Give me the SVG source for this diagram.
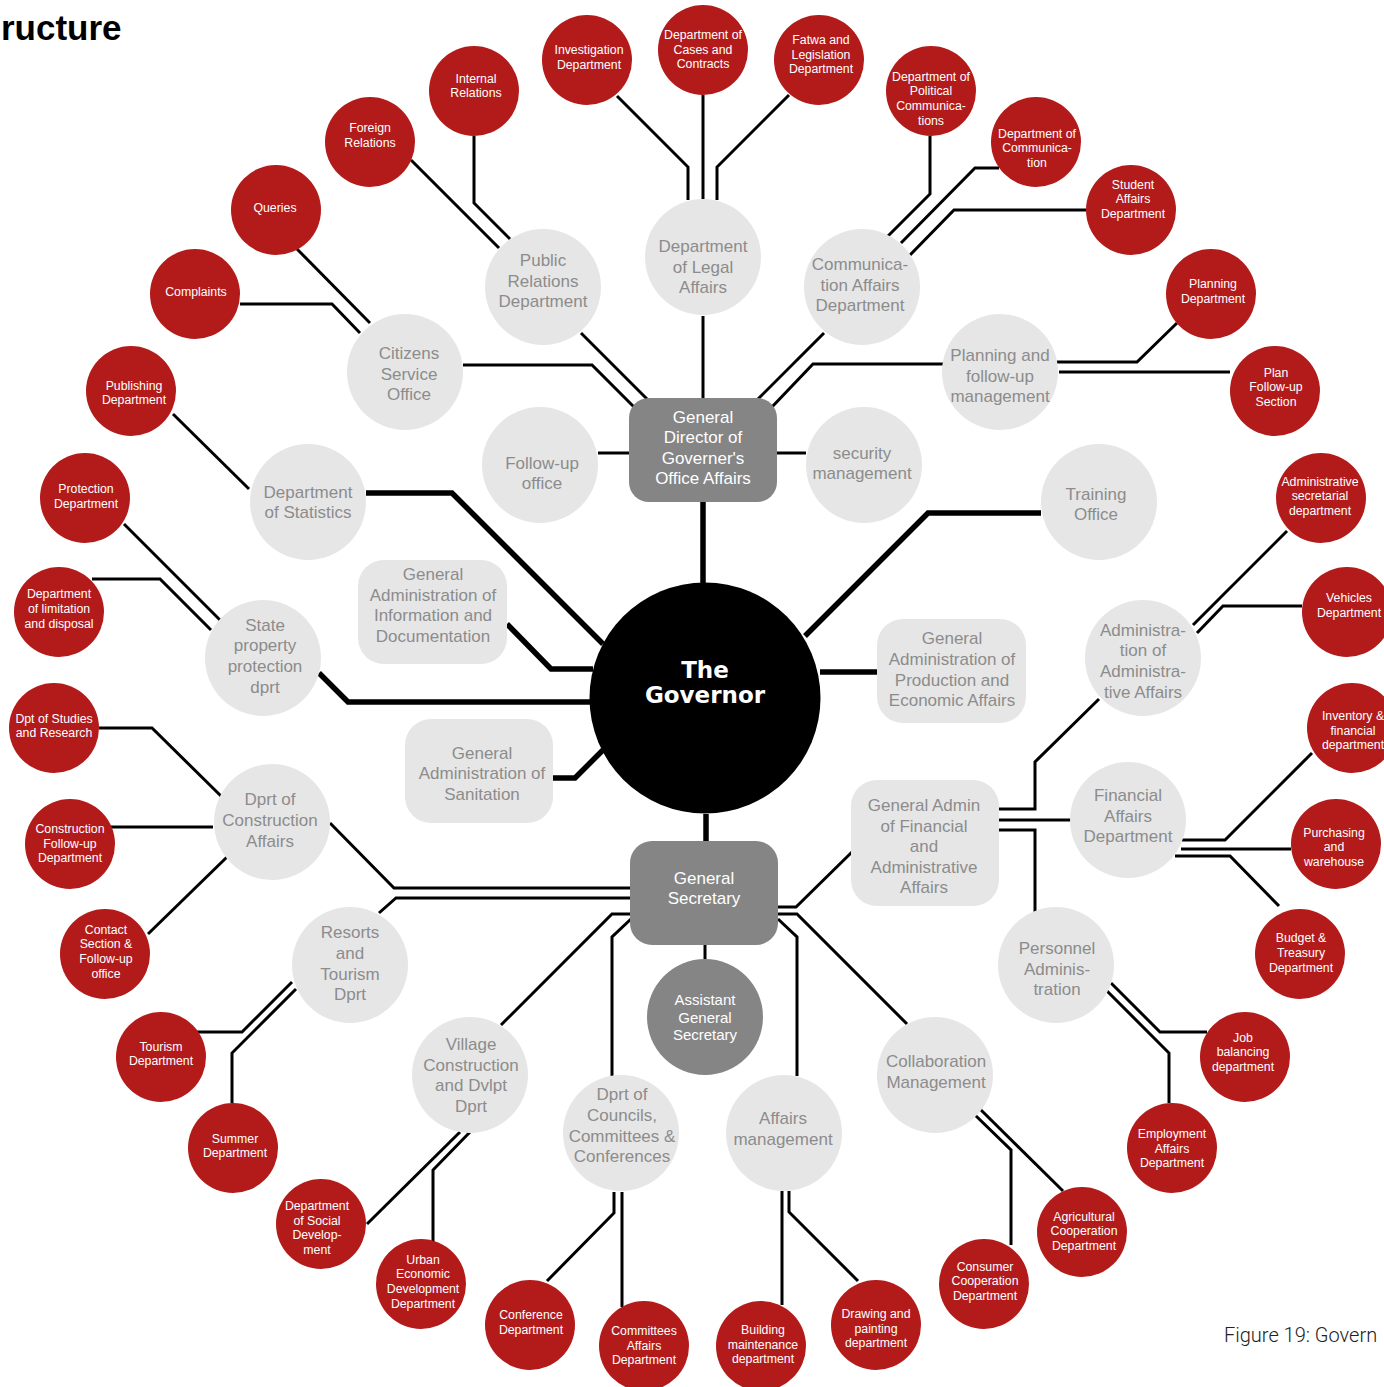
<svg xmlns="http://www.w3.org/2000/svg" width="1384" height="1387" viewBox="0 0 1384 1387">
<style>
.red{fill:#B31B1B}
.lt{fill:#E6E6E6}
.dk{fill:#858585}
.rt{font-family:"Liberation Sans",Arial,sans-serif;font-size:12.3px;fill:#fff;text-anchor:middle}
.gt{font-family:"Liberation Sans",Arial,sans-serif;font-size:17px;fill:#8C8C8C;text-anchor:middle}
.wt{font-family:"Liberation Sans",Arial,sans-serif;font-size:17px;fill:#fff;text-anchor:middle}
.c{fill:none;stroke:#000;stroke-width:3}
.t{fill:none;stroke:#000;stroke-width:5.5}
</style>
<rect width="1384" height="1387" fill="#fff"/>
<text x="1" y="40" font-family="'Liberation Sans',Arial,sans-serif" font-weight="bold" font-size="35" fill="#000">ructure</text>
<text x="1224" y="1342" font-family="Roboto,'Liberation Sans',sans-serif" font-weight="300" font-size="20" fill="#222">Figure 19: Govern</text>
<g id="connectors">
<path class="t" d="M703,502V583"/>
<path class="t" d="M706,814V841"/>
<path class="t" d="M366,493H452L603,644"/>
<path class="t" d="M507,624L551,669H593"/>
<path class="t" d="M319,673L348,702H591"/>
<path class="t" d="M553,778H575L603,750"/>
<path class="t" d="M805,636L928,513H1041"/>
<path class="t" d="M820,672H877"/>
<path class="c" d="M703,316V398"/>
<path class="c" d="M581,333L647,399"/>
<path class="c" d="M463,365H592L635,408"/>
<path class="c" d="M824,333L758,399"/>
<path class="c" d="M943,364H813L771,408"/>
<path class="c" d="M598,453H629"/>
<path class="c" d="M777,453H806"/>
<path class="c" d="M617,96L688,167V200"/>
<path class="c" d="M703,95V199"/>
<path class="c" d="M789,95L717,167V200"/>
<path class="c" d="M474,136V203L510,239"/>
<path class="c" d="M411,160L499,248"/>
<path class="c" d="M930,136V194L887,237"/>
<path class="c" d="M999,168H975L901,243"/>
<path class="c" d="M1086,210H954L910,255"/>
<path class="c" d="M1177,323L1137,362H1057"/>
<path class="c" d="M1059,372H1230"/>
<path class="c" d="M296,248L370,323"/>
<path class="c" d="M240,304H332L360,333"/>
<path class="c" d="M173,414L249,489"/>
<path class="c" d="M124,524L220,620"/>
<path class="c" d="M92,579H160L211,630"/>
<path class="c" d="M99,728H152L221,796"/>
<path class="c" d="M108,827H213"/>
<path class="c" d="M148,934L227,857"/>
<path class="c" d="M330,823L394,888H631"/>
<path class="c" d="M379,913L396,898H631"/>
<path class="c" d="M501,1025L612,914H631"/>
<path class="c" d="M631,919L612,937V1076"/>
<path class="c" d="M778,919L797,937V1076"/>
<path class="c" d="M778,914H797L907,1024"/>
<path class="c" d="M778,907H796L852,852"/>
<path class="c" d="M705,945V959"/>
<path class="c" d="M999,809H1035V762L1099,699"/>
<path class="c" d="M999,820H1071"/>
<path class="c" d="M999,830H1035V912"/>
<path class="c" d="M1287,531L1193,625"/>
<path class="c" d="M1302,606H1223L1197,633"/>
<path class="c" d="M1312,753L1225,840H1182"/>
<path class="c" d="M1291,849H1181"/>
<path class="c" d="M1175,856H1230L1279,906"/>
<path class="c" d="M1207,1032H1160L1111,983"/>
<path class="c" d="M1169,1103V1053L1106,990"/>
<path class="c" d="M1063,1191L980,1109"/>
<path class="c" d="M1011,1245V1150L975,1115"/>
<path class="c" d="M367,1224L460,1132"/>
<path class="c" d="M433,1242V1170L470,1132"/>
<path class="c" d="M547,1281L614,1213V1192"/>
<path class="c" d="M622,1192V1307"/>
<path class="c" d="M782,1191V1305"/>
<path class="c" d="M789,1191V1212L858,1281"/>
<path class="c" d="M196,1032H242L292,982"/>
<path class="c" d="M232,1103V1053L296,989"/>
</g>
<g id="governor"><circle cx="705" cy="698" r="115.5" fill="#000"/><text font-family="'DejaVu Sans',Verdana,sans-serif" font-weight="bold" font-size="23" fill="#fff" text-anchor="middle"><tspan x="705" y="678">The</tspan><tspan x="705" y="703">Governor</tspan></text></g>
<g id="general-director"><rect class="dk" x="629" y="398" width="148" height="104" rx="20"/><text class="wt"><tspan x="703" y="423">General</tspan><tspan x="703" y="443">Director of</tspan><tspan x="703" y="464">Governer's</tspan><tspan x="703" y="484">Office Affairs</tspan></text></g>
<g id="general-secretary"><rect class="dk" x="630" y="841" width="148" height="104" rx="22"/><text class="wt"><tspan x="704" y="884">General</tspan><tspan x="704" y="904">Secretary</tspan></text></g>
<g id="assistant-gs"><circle class="dk" cx="705" cy="1017" r="58"/><text class="wt" style="font-size:15px"><tspan x="705" y="1005">Assistant</tspan><tspan x="705" y="1023">General</tspan><tspan x="705" y="1040">Secretary</tspan></text></g>
<g id="public-relations"><circle class="lt" cx="543" cy="287" r="58"/><text class="gt"><tspan x="543" y="266">Public</tspan><tspan x="543" y="287">Relations</tspan><tspan x="543" y="307">Department</tspan></text></g>
<g id="legal-affairs"><circle class="lt" cx="703" cy="257" r="58"/><text class="gt"><tspan x="703" y="252">Department</tspan><tspan x="703" y="273">of Legal</tspan><tspan x="703" y="293">Affairs</tspan></text></g>
<g id="communication-affairs"><circle class="lt" cx="862" cy="287" r="58"/><text class="gt"><tspan x="860" y="270">Communica-</tspan><tspan x="860" y="291">tion Affairs</tspan><tspan x="860" y="311">Department</tspan></text></g>
<g id="citizens"><circle class="lt" cx="405" cy="372" r="58"/><text class="gt"><tspan x="409" y="359">Citizens</tspan><tspan x="409" y="380">Service</tspan><tspan x="409" y="400">Office</tspan></text></g>
<g id="follow-up-office"><circle class="lt" cx="540" cy="465" r="58"/><text class="gt"><tspan x="542" y="469">Follow-up</tspan><tspan x="542" y="489">office</tspan></text></g>
<g id="security"><circle class="lt" cx="864" cy="465" r="58"/><text class="gt"><tspan x="862" y="459">security</tspan><tspan x="862" y="479">management</tspan></text></g>
<g id="planning-followup"><circle class="lt" cx="1000" cy="372" r="58"/><text class="gt"><tspan x="1000" y="361">Planning and</tspan><tspan x="1000" y="382">follow-up</tspan><tspan x="1000" y="402">management</tspan></text></g>
<g id="training"><circle class="lt" cx="1099" cy="502" r="58"/><text class="gt"><tspan x="1096" y="500">Training</tspan><tspan x="1096" y="520">Office</tspan></text></g>
<g id="statistics"><circle class="lt" cx="308" cy="502" r="58"/><text class="gt"><tspan x="308" y="498">Department</tspan><tspan x="308" y="518">of Statistics</tspan></text></g>
<g id="state-property"><circle class="lt" cx="263" cy="658" r="58"/><text class="gt"><tspan x="265" y="631">State</tspan><tspan x="265" y="651">property</tspan><tspan x="265" y="672">protection</tspan><tspan x="265" y="693">dprt</tspan></text></g>
<g id="construction-affairs"><circle class="lt" cx="272" cy="822" r="58"/><text class="gt"><tspan x="270" y="805">Dprt of</tspan><tspan x="270" y="826">Construction</tspan><tspan x="270" y="847">Affairs</tspan></text></g>
<g id="admin-affairs"><circle class="lt" cx="1143" cy="658" r="58"/><text class="gt"><tspan x="1143" y="636">Administra-</tspan><tspan x="1143" y="656">tion of</tspan><tspan x="1143" y="677">Administra-</tspan><tspan x="1143" y="698">tive Affairs</tspan></text></g>
<g id="financial-affairs"><circle class="lt" cx="1128" cy="820" r="58"/><text class="gt"><tspan x="1128" y="801">Financial</tspan><tspan x="1128" y="822">Affairs</tspan><tspan x="1128" y="842">Department</tspan></text></g>
<g id="personnel"><circle class="lt" cx="1056" cy="965" r="58"/><text class="gt"><tspan x="1057" y="954">Personnel</tspan><tspan x="1057" y="975">Adminis-</tspan><tspan x="1057" y="995">tration</tspan></text></g>
<g id="collaboration"><circle class="lt" cx="935" cy="1075" r="58"/><text class="gt"><tspan x="936" y="1067">Collaboration</tspan><tspan x="936" y="1088">Management</tspan></text></g>
<g id="affairs-management"><circle class="lt" cx="784" cy="1133" r="58"/><text class="gt"><tspan x="783" y="1124">Affairs</tspan><tspan x="783" y="1145">management</tspan></text></g>
<g id="councils"><circle class="lt" cx="621" cy="1133" r="58"/><text class="gt"><tspan x="622" y="1100">Dprt of</tspan><tspan x="622" y="1121">Councils,</tspan><tspan x="622" y="1142">Committees &amp;</tspan><tspan x="622" y="1162">Conferences</tspan></text></g>
<g id="village"><circle class="lt" cx="470" cy="1075" r="58"/><text class="gt"><tspan x="471" y="1050">Village</tspan><tspan x="471" y="1071">Construction</tspan><tspan x="471" y="1091">and Dvlpt</tspan><tspan x="471" y="1112">Dprt</tspan></text></g>
<g id="resorts"><circle class="lt" cx="350" cy="965" r="58"/><text class="gt"><tspan x="350" y="938">Resorts</tspan><tspan x="350" y="959">and</tspan><tspan x="350" y="980">Tourism</tspan><tspan x="350" y="1000">Dprt</tspan></text></g>
<g id="info-doc"><rect class="lt" x="358" y="560" width="149" height="104" rx="26"/><text class="gt"><tspan x="433" y="580">General</tspan><tspan x="433" y="601">Administration of</tspan><tspan x="433" y="621">Information and</tspan><tspan x="433" y="642">Documentation</tspan></text></g>
<g id="sanitation"><rect class="lt" x="405" y="719" width="148" height="104" rx="26"/><text class="gt"><tspan x="482" y="759">General</tspan><tspan x="482" y="779">Administration of</tspan><tspan x="482" y="800">Sanitation</tspan></text></g>
<g id="production"><rect class="lt" x="877" y="619" width="149" height="104" rx="26"/><text class="gt"><tspan x="952" y="644">General</tspan><tspan x="952" y="665">Administration of</tspan><tspan x="952" y="686">Production and</tspan><tspan x="952" y="706">Economic Affairs</tspan></text></g>
<g id="fin-admin"><rect class="lt" x="851" y="780" width="148" height="126" rx="26"/><text class="gt"><tspan x="924" y="811">General Admin</tspan><tspan x="924" y="832">of Financial</tspan><tspan x="924" y="852">and</tspan><tspan x="924" y="873">Administrative</tspan><tspan x="924" y="893">Affairs</tspan></text></g>
<g id="internal-relations"><circle class="red" cx="474" cy="91" r="45"/><text class="rt"><tspan x="476" y="83">Internal</tspan><tspan x="476" y="97">Relations</tspan></text></g>
<g id="foreign-relations"><circle class="red" cx="370" cy="142" r="45"/><text class="rt"><tspan x="370" y="132">Foreign</tspan><tspan x="370" y="147">Relations</tspan></text></g>
<g id="queries"><circle class="red" cx="276" cy="210" r="45"/><text class="rt"><tspan x="275" y="212">Queries</tspan></text></g>
<g id="complaints"><circle class="red" cx="195" cy="294" r="45"/><text class="rt"><tspan x="196" y="296">Complaints</tspan></text></g>
<g id="publishing"><circle class="red" cx="131" cy="391" r="45"/><text class="rt"><tspan x="134" y="390">Publishing</tspan><tspan x="134" y="404">Department</tspan></text></g>
<g id="investigation"><circle class="red" cx="587" cy="60" r="45"/><text class="rt"><tspan x="589" y="54">Investigation</tspan><tspan x="589" y="69">Department</tspan></text></g>
<g id="cases"><circle class="red" cx="703" cy="50" r="45"/><text class="rt"><tspan x="703" y="39">Department of</tspan><tspan x="703" y="54">Cases and</tspan><tspan x="703" y="68">Contracts</tspan></text></g>
<g id="fatwa"><circle class="red" cx="819" cy="60" r="45"/><text class="rt"><tspan x="821" y="44">Fatwa and</tspan><tspan x="821" y="59">Legislation</tspan><tspan x="821" y="73">Department</tspan></text></g>
<g id="political"><circle class="red" cx="931" cy="91" r="45"/><text class="rt"><tspan x="931" y="81">Department of</tspan><tspan x="931" y="95">Political</tspan><tspan x="931" y="110">Communica-</tspan><tspan x="931" y="125">tions</tspan></text></g>
<g id="communication"><circle class="red" cx="1036" cy="142" r="45"/><text class="rt"><tspan x="1037" y="138">Department of</tspan><tspan x="1037" y="152">Communica-</tspan><tspan x="1037" y="167">tion</tspan></text></g>
<g id="student"><circle class="red" cx="1131" cy="210" r="45"/><text class="rt"><tspan x="1133" y="189">Student</tspan><tspan x="1133" y="203">Affairs</tspan><tspan x="1133" y="218">Department</tspan></text></g>
<g id="planning-dept"><circle class="red" cx="1211" cy="294" r="45"/><text class="rt"><tspan x="1213" y="288">Planning</tspan><tspan x="1213" y="303">Department</tspan></text></g>
<g id="plan-followup"><circle class="red" cx="1275" cy="391" r="45"/><text class="rt"><tspan x="1276" y="377">Plan</tspan><tspan x="1276" y="391">Follow-up</tspan><tspan x="1276" y="406">Section</tspan></text></g>
<g id="protection"><circle class="red" cx="85" cy="498" r="45"/><text class="rt"><tspan x="86" y="493">Protection</tspan><tspan x="86" y="508">Department</tspan></text></g>
<g id="limitation"><circle class="red" cx="59" cy="612" r="45"/><text class="rt"><tspan x="59" y="598">Department</tspan><tspan x="59" y="613">of limitation</tspan><tspan x="59" y="628">and disposal</tspan></text></g>
<g id="studies"><circle class="red" cx="54" cy="728" r="45"/><text class="rt"><tspan x="54" y="723">Dpt of Studies</tspan><tspan x="54" y="737">and Research</tspan></text></g>
<g id="construction-followup"><circle class="red" cx="70" cy="844" r="45"/><text class="rt"><tspan x="70" y="833">Construction</tspan><tspan x="70" y="848">Follow-up</tspan><tspan x="70" y="862">Department</tspan></text></g>
<g id="contact"><circle class="red" cx="105" cy="954" r="45"/><text class="rt"><tspan x="106" y="934">Contact</tspan><tspan x="106" y="948">Section &amp;</tspan><tspan x="106" y="963">Follow-up</tspan><tspan x="106" y="978">office</tspan></text></g>
<g id="tourism"><circle class="red" cx="161" cy="1057" r="45"/><text class="rt"><tspan x="161" y="1051">Tourism</tspan><tspan x="161" y="1065">Department</tspan></text></g>
<g id="summer"><circle class="red" cx="233" cy="1148" r="45"/><text class="rt"><tspan x="235" y="1143">Summer</tspan><tspan x="235" y="1157">Department</tspan></text></g>
<g id="social-dev"><circle class="red" cx="321" cy="1224" r="45"/><text class="rt"><tspan x="317" y="1210">Department</tspan><tspan x="317" y="1225">of Social</tspan><tspan x="317" y="1239">Develop-</tspan><tspan x="317" y="1254">ment</tspan></text></g>
<g id="urban"><circle class="red" cx="421" cy="1284" r="45"/><text class="rt"><tspan x="423" y="1264">Urban</tspan><tspan x="423" y="1278">Economic</tspan><tspan x="423" y="1293">Development</tspan><tspan x="423" y="1308">Department</tspan></text></g>
<g id="conference"><circle class="red" cx="530" cy="1325" r="45"/><text class="rt"><tspan x="531" y="1319">Conference</tspan><tspan x="531" y="1334">Department</tspan></text></g>
<g id="committees"><circle class="red" cx="644" cy="1346" r="45"/><text class="rt"><tspan x="644" y="1335">Committees</tspan><tspan x="644" y="1350">Affairs</tspan><tspan x="644" y="1364">Department</tspan></text></g>
<g id="building"><circle class="red" cx="761" cy="1346" r="45"/><text class="rt"><tspan x="763" y="1334">Building</tspan><tspan x="763" y="1349">maintenance</tspan><tspan x="763" y="1363">department</tspan></text></g>
<g id="drawing"><circle class="red" cx="876" cy="1325" r="45"/><text class="rt"><tspan x="876" y="1318">Drawing and</tspan><tspan x="876" y="1333">painting</tspan><tspan x="876" y="1347">department</tspan></text></g>
<g id="admin-secretarial"><circle class="red" cx="1321" cy="498" r="45"/><text class="rt"><tspan x="1320" y="486">Administrative</tspan><tspan x="1320" y="500">secretarial</tspan><tspan x="1320" y="515">department</tspan></text></g>
<g id="vehicles"><circle class="red" cx="1347" cy="612" r="45"/><text class="rt"><tspan x="1349" y="602">Vehicles</tspan><tspan x="1349" y="617">Department</tspan></text></g>
<g id="inventory"><circle class="red" cx="1352" cy="728" r="45"/><text class="rt"><tspan x="1353" y="720">Inventory &amp;</tspan><tspan x="1353" y="735">financial</tspan><tspan x="1353" y="749">department</tspan></text></g>
<g id="purchasing"><circle class="red" cx="1336" cy="844" r="45"/><text class="rt"><tspan x="1334" y="837">Purchasing</tspan><tspan x="1334" y="851">and</tspan><tspan x="1334" y="866">warehouse</tspan></text></g>
<g id="budget"><circle class="red" cx="1300" cy="954" r="45"/><text class="rt"><tspan x="1301" y="942">Budget &amp;</tspan><tspan x="1301" y="957">Treasury</tspan><tspan x="1301" y="972">Department</tspan></text></g>
<g id="job-balancing"><circle class="red" cx="1245" cy="1057" r="45"/><text class="rt"><tspan x="1243" y="1042">Job</tspan><tspan x="1243" y="1056">balancing</tspan><tspan x="1243" y="1071">department</tspan></text></g>
<g id="employment"><circle class="red" cx="1172" cy="1148" r="45"/><text class="rt"><tspan x="1172" y="1138">Employment</tspan><tspan x="1172" y="1153">Affairs</tspan><tspan x="1172" y="1167">Department</tspan></text></g>
<g id="agricultural"><circle class="red" cx="1082" cy="1232" r="45"/><text class="rt"><tspan x="1084" y="1221">Agricultural</tspan><tspan x="1084" y="1235">Cooperation</tspan><tspan x="1084" y="1250">Department</tspan></text></g>
<g id="consumer"><circle class="red" cx="984" cy="1284" r="45"/><text class="rt"><tspan x="985" y="1271">Consumer</tspan><tspan x="985" y="1285">Cooperation</tspan><tspan x="985" y="1300">Department</tspan></text></g>
</svg>
